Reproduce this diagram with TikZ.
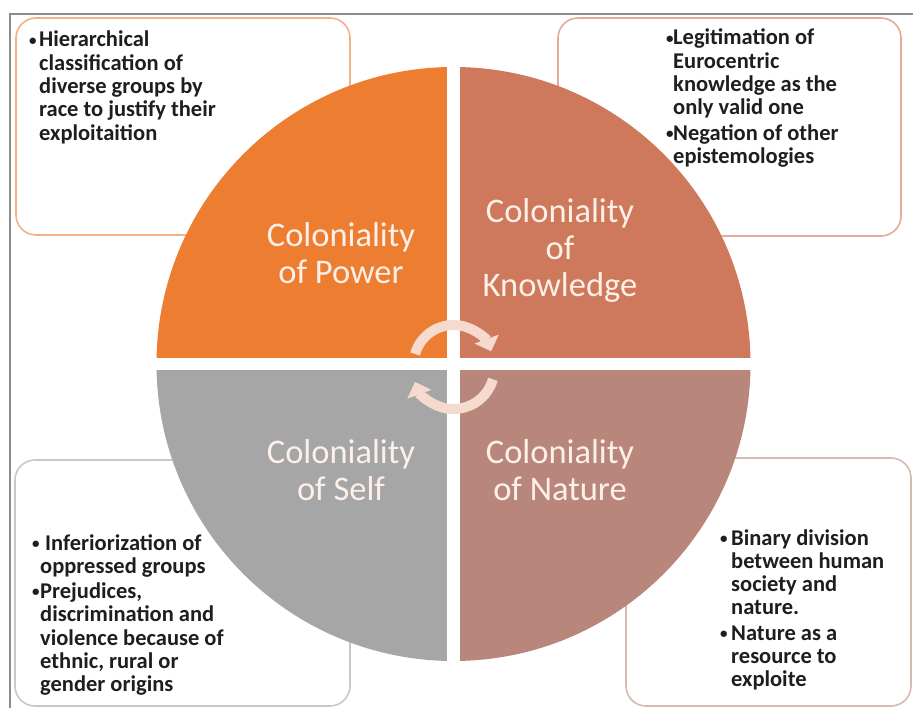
\documentclass[tikz,border=0pt]{standalone}
\usepackage{fontspec}
\setmainfont{Carlito}
\usetikzlibrary{arrows.meta}

% palette
\definecolor{powercol}{RGB}{237,125,49}
\definecolor{knowcol}{RGB}{206,121,91}
\definecolor{naturecol}{RGB}{185,134,124}
\definecolor{selfcol}{RGB}{166,166,166}
\definecolor{powerline}{RGB}{244,177,131}
\definecolor{knowline}{RGB}{228,170,150}
\definecolor{selfline}{RGB}{200,200,200}
\definecolor{natureline}{RGB}{214,185,178}
\definecolor{cyclecol}{RGB}{246,218,206}
\definecolor{labelcol}{RGB}{252,240,232}
\definecolor{bodytext}{RGB}{30,30,30}
\definecolor{framecol}{RGB}{140,140,140}

% small bullet followed by a fixed indent
\newcommand\bulitem[1]{\makebox[#1][l]{\raisebox{1.8pt}{\fontsize{15}{15}\selectfont •}}}

\begin{document}
\begin{tikzpicture}[x=1pt,y=-1pt,
  infobox/.style={draw, fill=white, rounded corners=20pt, line width=1.6pt, inner sep=0pt},
  quadlabel/.style={anchor=base, inner sep=0pt, text=labelcol, font=\fontsize{34.5}{37}\selectfont},
  bullettext/.style={anchor=base west, inner sep=0pt, text=bodytext, font=\bfseries\fontsize{22.5}{23.3}\selectfont},
  cyclearrow/.style={draw=cyclecol, line width=10pt, -{Triangle[width=25pt,length=13pt]}}
]
\useasboundingbox (0,0) rectangle (913,708);
\fill[white] (0,0) rectangle (913,708);

% outer frame
\draw[framecol, line width=1.5pt] (10,708) -- (10,14) -- (913,14);

% description boxes behind the circle
\node[infobox, draw=powerline, minimum width=334, minimum height=217] (powerbox) at (183,126.5) {};
\node[infobox, draw=knowline, minimum width=343, minimum height=218] (knowbox) at (729.5,127) {};
\node[infobox, draw=selfline, minimum width=335, minimum height=246] (selfbox) at (182.5,583) {};
\node[infobox, draw=natureline, minimum width=285, minimum height=248] (naturebox) at (768.5,582) {};

% four quadrants of the circle, split by a white cross
\begin{scope}
  \clip (453.5,364) circle (297);
  \fill[powercol] (447,358) rectangle (150,60);
  \fill[knowcol] (460,358) rectangle (760,60);
  \fill[selfcol] (447,370) rectangle (150,670);
  \fill[naturecol] (460,370) rectangle (760,670);
\end{scope}

% cycle arrows in the middle
\coordinate (hubtop) at (453.5,365);
\coordinate (hubbot) at (453.5,368);
\draw[cyclearrow] ([shift={(196:40)}]hubtop) arc[start angle=196, end angle=340, radius=40];
\draw[cyclearrow] ([shift={(16:41)}]hubbot) arc[start angle=16, end angle=160, radius=41];

% quadrant titles
\node[quadlabel] (powerlabel) at (341,247) {\parbox[t]{220pt}{\centering Coloniality\\of Power}};
\node[quadlabel] (knowlabel) at (560,223) {\parbox[t]{220pt}{\centering Coloniality\\of\\Knowledge}};
\node[quadlabel] (selflabel) at (341,463) {\parbox[t]{220pt}{\centering Coloniality\\of Self}};
\node[quadlabel] (naturelabel) at (560,463) {\parbox[t]{220pt}{\centering Coloniality\\of Nature}};

% bullet texts
\node[bullettext] (powertext) at (29,47) {\parbox[t]{320pt}{%
  \bulitem{10pt}Hierarchical\\
  \hspace*{10pt}classification of\\
  \hspace*{10pt}diverse groups by\\
  \hspace*{10pt}race to justify their\\
  \hspace*{10pt}exploitaition}};

\node[bullettext] (knowtext) at (666,45) {\parbox[t]{230pt}{%
  \bulitem{7pt}Legitimation of\\
  \hspace*{7pt}Eurocentric\\
  \hspace*{7pt}knowledge as the\\
  \hspace*{7pt}only valid one\\[2pt]
  \bulitem{7pt}Negation of other\\
  \hspace*{7pt}epistemologies}};

\node[bullettext] (selftext) at (32,550) {\parbox[t]{310pt}{%
  \bulitem{13pt}Inferiorization of\\
  \hspace*{8pt}oppressed groups\\[2pt]
  \bulitem{8pt}Prejudices,\\
  \hspace*{8pt}discrimination and\\
  \hspace*{8pt}violence because of\\
  \hspace*{8pt}ethnic, rural or\\
  \hspace*{8pt}gender origins}};

\node[bullettext] (naturetext) at (720,545) {\parbox[t]{190pt}{%
  \bulitem{11pt}Binary division\\
  \hspace*{11pt}between human\\
  \hspace*{11pt}society and\\
  \hspace*{11pt}nature.\\[2pt]
  \bulitem{11pt}Nature as a\\
  \hspace*{11pt}resource to\\
  \hspace*{11pt}exploite}};
\end{tikzpicture}
\end{document}
